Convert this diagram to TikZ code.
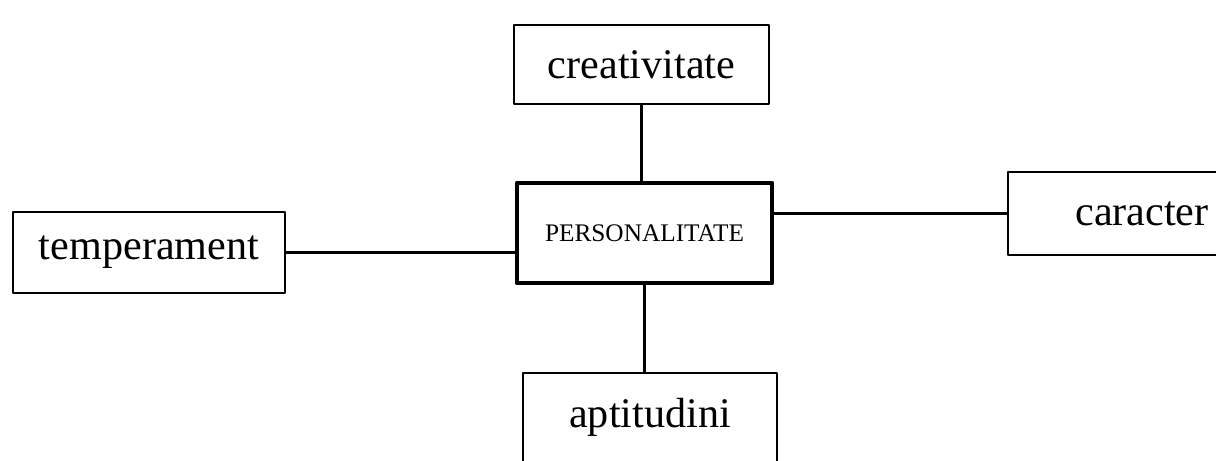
\documentclass[tikz,border=0pt]{standalone}
\usepackage{fontspec}
\setmainfont{Liberation Serif}
\usetikzlibrary{calc}

\begin{document}
\begin{tikzpicture}[x=0.02cm, y=-0.02cm, line join=round, line cap=round,
	box/.style={draw, line width=1.6pt, inner sep=0pt, font=\fontsize{24}{28}\selectfont},
	corebox/.style={box, line width=2.4pt, font=\fontsize{14.4}{17}\selectfont},
	link/.style={line width=1.4pt}]
	\useasboundingbox (0,0) rectangle (1216,460);
	\node[corebox, minimum width=255*0.02cm, minimum height=100*0.02cm] (pers) at (644.5,233) {PERSONALITATE};
	\node[box, minimum width=255*0.02cm, minimum height=79*0.02cm] (creat) at (641.5,64.5) {creativitate};
	\node[box, minimum width=272*0.02cm, minimum height=81*0.02cm] (temp) at (149,252.5) {temperament};
	\node[box, minimum width=268*0.02cm, minimum height=83*0.02cm] (car) at (1142,213.5) {caracter};
	\node[box, minimum width=254*0.02cm, minimum height=89*0.02cm] (apt) at (650,417.5) {aptitudini};
	\draw[link] (creat.south) -- (creat.south |- pers.north);
	\draw[link] (temp.east) -- (pers.west |- temp.east);
	\draw[link] (pers.east |- car.west) -- (car.west);
	\draw[link] (pers.south) -- (pers.south |- apt.north);
\end{tikzpicture}
\end{document}
